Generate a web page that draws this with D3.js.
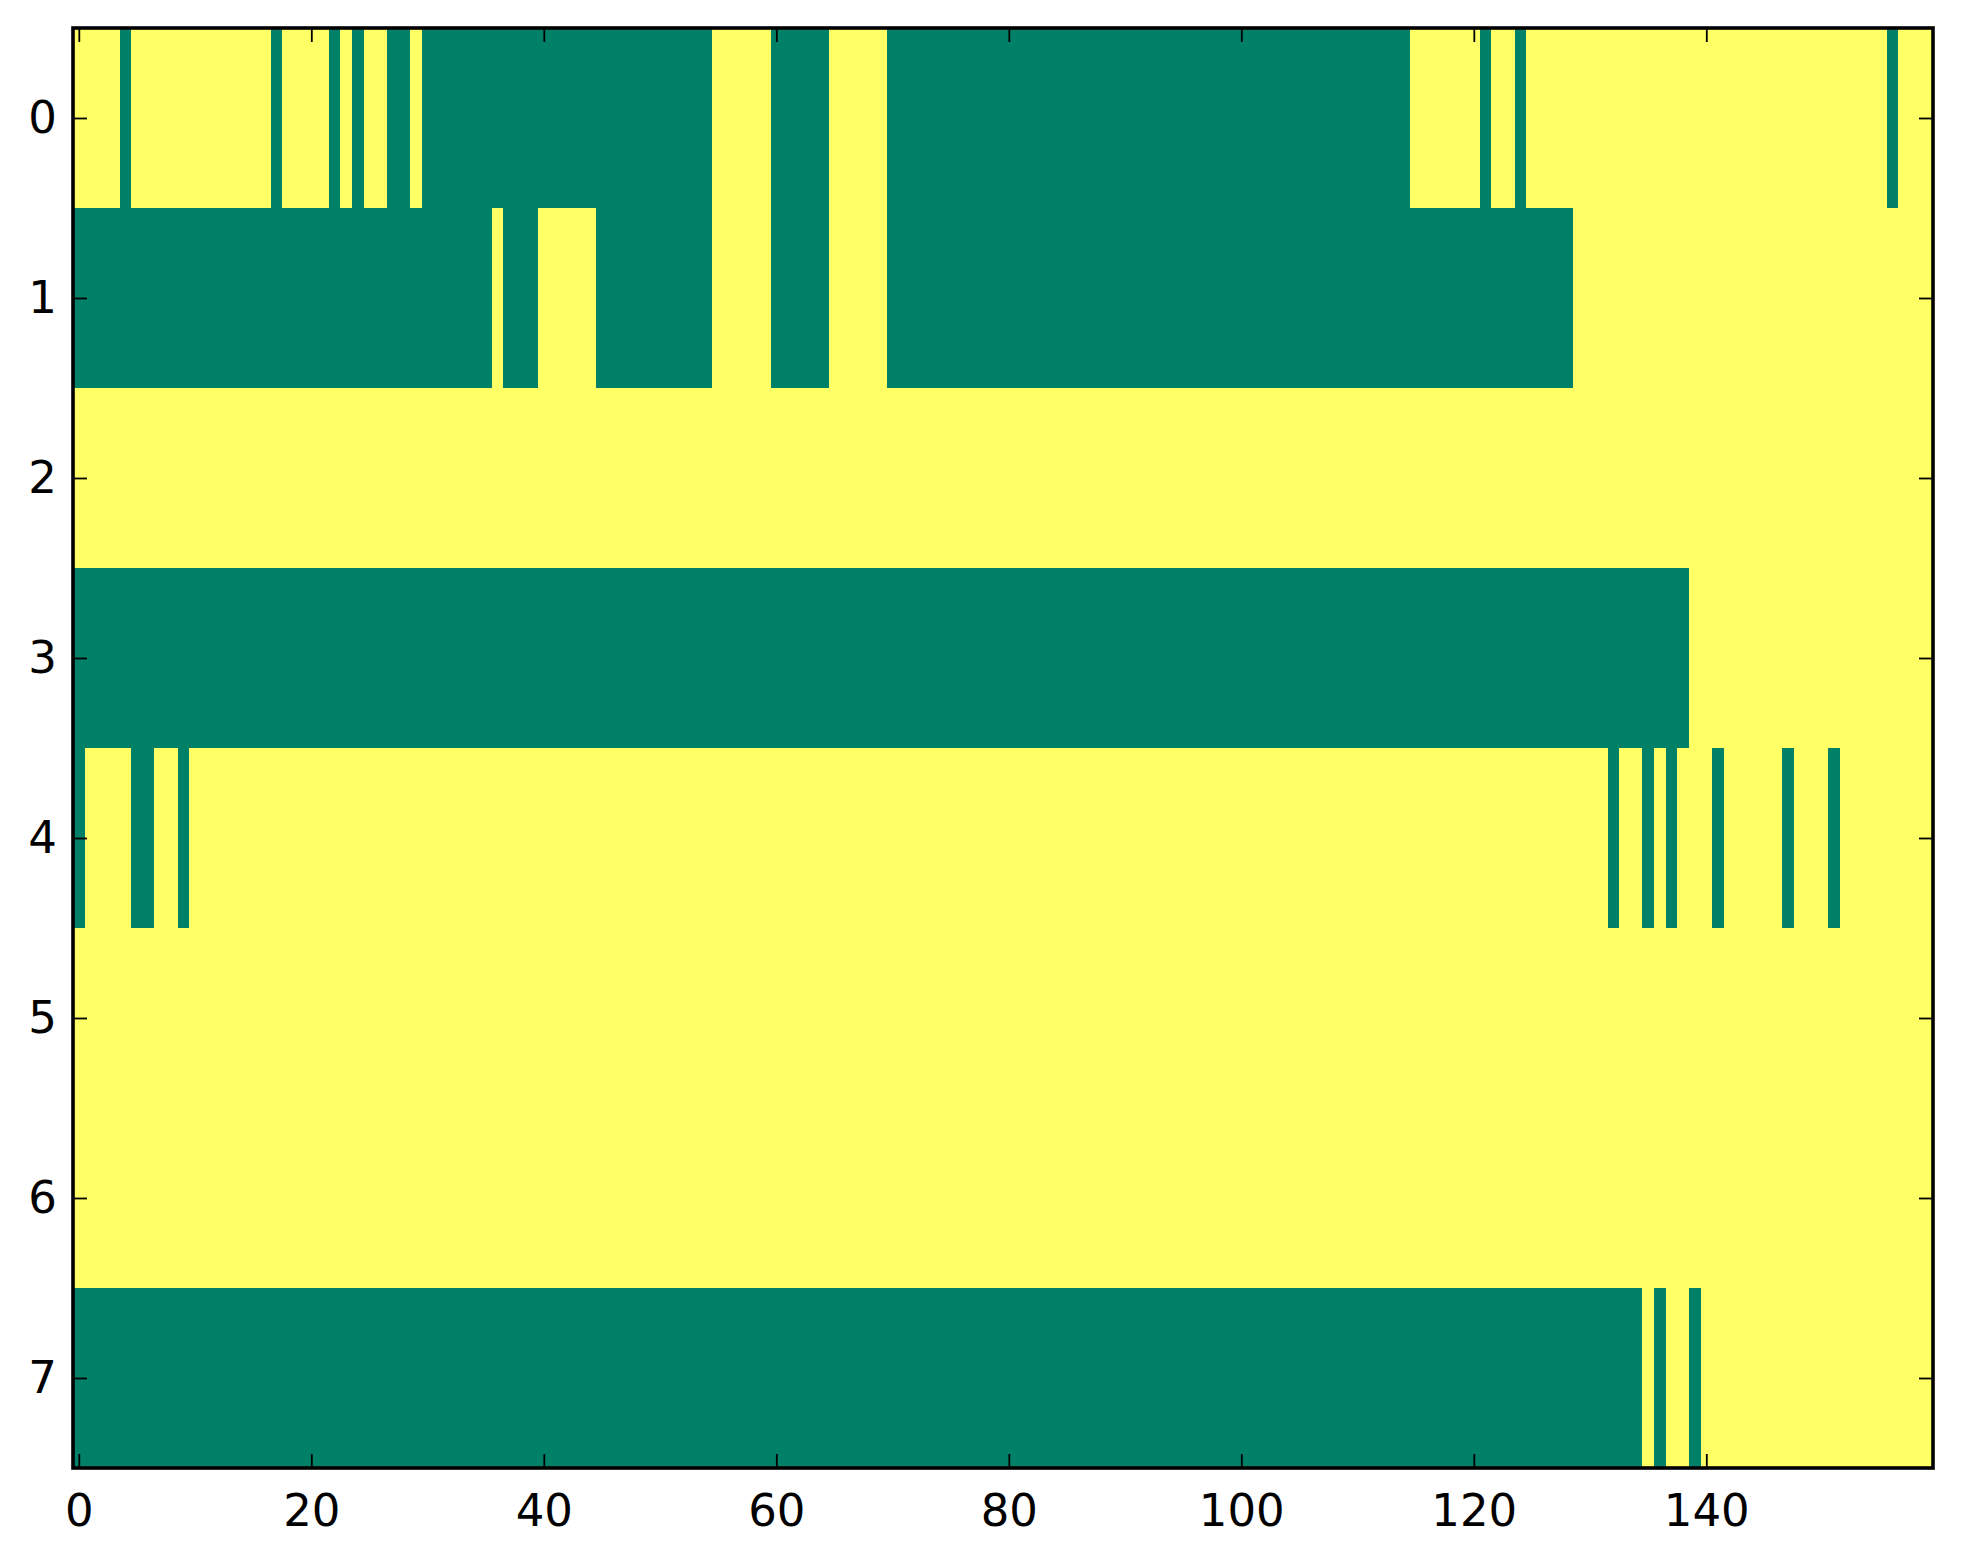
<!DOCTYPE html>
<html>
<head>
<meta charset="utf-8">
<script src="https://cdn.jsdelivr.net/npm/d3@7"></script>
<style>
  html, body { margin: 0; padding: 0; background: #fff; }
  svg { display: block; }
  .tick text { font-family: "DejaVu Sans", sans-serif; font-size: 45px; fill: #000; }
</style>
</head>
<body>
<script>
// Chart size (matches the screenshot)
const width = 1963;
const height = 1564;
const margin = { top: 28, right: 30, bottom: 96, left: 73 };

const nCols = 160;
const rowIds = [0, 1, 2, 3, 4, 5, 6, 7];

// Green (value 0) runs per row, as [first column, last column]; the rest is yellow (value 1)
const row0 = [[4, 4], [17, 17], [22, 22], [24, 24], [27, 28], [30, 54], [60, 64], [70, 114], [121, 121], [124, 124], [156, 156]];
const row1 = [[0, 35], [37, 39], [45, 54], [60, 64], [70, 128]];
const row2 = [];
const row3 = [[0, 138]];
const row4 = [[0, 0], [5, 6], [9, 9], [132, 132], [135, 135], [137, 137], [141, 141], [147, 147], [151, 151]];
const row5 = [];
const row6 = [];
const row7 = [[0, 134], [136, 136], [139, 139]];
const greenRuns = [row0, row1, row2, row3, row4, row5, row6, row7];

// Tick labels
const xTicks = [0, 20, 40, 60, 80, 100, 120, 140];
const yTicks = [0, 1, 2, 3, 4, 5, 6, 7];

// Build the cells of the matrix
const cells = rowIds.flatMap(r => d3.range(nCols).map(c => ({
  row: r,
  col: c,
  value: greenRuns[r].some(([a, b]) => c >= a && c <= b) ? 0 : 1
})));

const svg = d3.select('body').append('svg')
  .attr('width', width)
  .attr('height', height);

const innerW = width - margin.left - margin.right;
const innerH = height - margin.top - margin.bottom;

const x = d3.scaleLinear().domain([-0.5, nCols - 0.5]).range([0, innerW]);
const y = d3.scaleLinear().domain([-0.5, rowIds.length - 0.5]).range([0, innerH]);

// "summer" colormap ends
const color = d3.scaleLinear().domain([0, 1]).range(['#008066', '#ffff66']);

const g = svg.append('g').attr('transform', `translate(${margin.left},${margin.top})`);

g.append('g')
  .selectAll('rect')
  .data(cells)
  .join('rect')
  .attr('x', d => x(d.col - 0.5))
  .attr('y', d => y(d.row - 0.5))
  .attr('width', x(1) - x(0) + 0.4)
  .attr('height', y(1) - y(0) + 0.4)
  .attr('fill', d => color(d.value))
  .attr('shape-rendering', 'crispEdges');

// Ticks point inward on all four sides
const tickLen = 14;
const styleAxis = sel => {
  sel.select('.domain').remove();
  sel.selectAll('.tick line').attr('stroke', '#000').attr('stroke-width', 1.8);
};

g.append('g')
  .attr('transform', `translate(0,${innerH})`)
  .call(d3.axisBottom(x).tickValues(xTicks).tickFormat(d3.format('d')).tickSize(-tickLen).tickPadding(26))
  .call(styleAxis);

g.append('g')
  .call(d3.axisTop(x).tickValues(xTicks).tickFormat('').tickSize(-tickLen))
  .call(styleAxis);

g.append('g')
  .call(d3.axisLeft(y).tickValues(yTicks).tickFormat(d3.format('d')).tickSize(-tickLen).tickPadding(16))
  .call(styleAxis);

g.append('g')
  .attr('transform', `translate(${innerW},0)`)
  .call(d3.axisRight(y).tickValues(yTicks).tickFormat('').tickSize(-tickLen))
  .call(styleAxis);

// Frame
g.append('rect')
  .attr('width', innerW)
  .attr('height', innerH)
  .attr('fill', 'none')
  .attr('stroke', '#000')
  .attr('stroke-width', 3.6);
</script>
</body>
</html>
